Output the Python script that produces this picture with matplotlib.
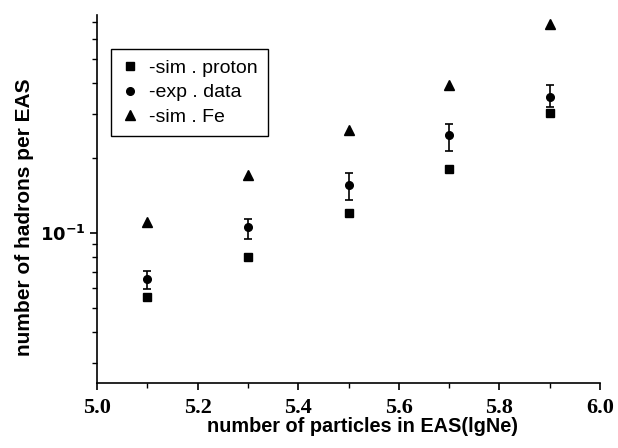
import matplotlib
matplotlib.use("Agg")
import matplotlib.pyplot as plt
from matplotlib.ticker import MultipleLocator, LogLocator, NullFormatter, FixedLocator

# data
lg_ne = [5.1, 5.3, 5.5, 5.7, 5.9]
sim_proton = [0.0555, 0.0802, 0.120, 0.180, 0.302]
exp_data = [0.0655, 0.1057, 0.1556, 0.2466, 0.350]
exp_err_up = [0.0050, 0.0081, 0.018, 0.027, 0.041]
exp_err_down = [0.0058, 0.0111, 0.020, 0.034, 0.031]
sim_fe = [0.1107, 0.1706, 0.258, 0.391, 0.686]
labels = ["-sim . proton", "-exp . data", "-sim . Fe"]

fig = plt.figure(figsize=(6.18, 4.48), dpi=100)
ax = fig.add_axes([0.157, 0.145, 0.814, 0.822])

ax.errorbar(lg_ne, exp_data, yerr=[exp_err_down, exp_err_up], fmt="none", ecolor="k",
            capsize=3, elinewidth=1.2, capthick=1.2)
ax.plot(lg_ne, sim_proton, "ks", markersize=5.5, label=labels[0])
ax.plot(lg_ne, exp_data, "ko", markersize=5.5, label=labels[1])
ax.plot(lg_ne, sim_fe, "k^", markersize=7, label=labels[2])

ax.set_yscale("log")
ax.set_xlim(5.0, 6.0)
ax.set_ylim(0.025, 0.75)

ax.spines["top"].set_visible(False)
ax.spines["right"].set_visible(False)
for s in ("left", "bottom"):
    ax.spines[s].set_linewidth(1.2)

ax.xaxis.set_major_locator(MultipleLocator(0.2))
ax.xaxis.set_minor_locator(MultipleLocator(0.1))
ax.yaxis.set_major_locator(FixedLocator([0.1]))
ax.yaxis.set_minor_locator(LogLocator(base=10, subs=range(2, 10)))
ax.yaxis.set_minor_formatter(NullFormatter())
ax.tick_params(which="major", direction="out", length=5, width=1.2)
ax.tick_params(which="minor", direction="out", length=3.5, width=1)
ax.tick_params(axis="x", which="major", pad=6)
ax.set_yticklabels(["$\\mathbf{10^{-1}}$"], fontsize=13, fontweight="bold")
for t in ax.get_xticklabels():
    t.set_fontfamily("Liberation Serif")
    t.set_fontweight("bold")
    t.set_fontsize(16)

ax.set_xlabel("number of particles in EAS(lgNe)", fontsize=14.3, fontweight="bold",
              family="Liberation Sans")
ax.xaxis.set_label_coords(0.527, -0.093)
ax.set_ylabel("number of hadrons per EAS", fontsize=15, fontweight="bold",
              family="Liberation Sans")
ax.yaxis.set_label_coords(-0.125, 0.451)

leg = ax.legend(loc="upper left", bbox_to_anchor=(0.028, 0.908), borderaxespad=0,
                fancybox=False, edgecolor="k", framealpha=1,
                handlelength=0.8, handletextpad=0.6, labelspacing=0.35,
                borderpad=0.55, prop={"family": "Liberation Sans", "size": 14})
leg.get_frame().set_linewidth(1)

fig.savefig("out.png", dpi=100)
